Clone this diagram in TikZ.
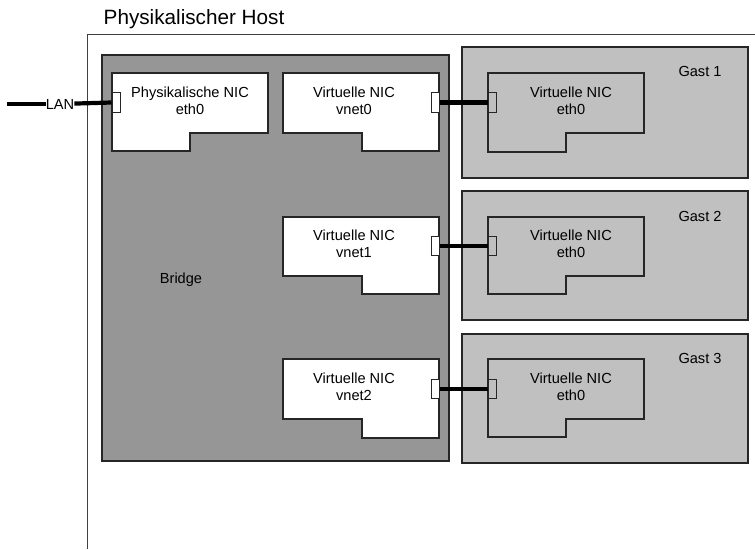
\documentclass[tikz,border=0pt]{standalone}
\usepackage{fontspec}
\setmainfont{Liberation Sans}
\usepackage{xcolor}

\definecolor{bridgegray}{HTML}{969696}
\definecolor{gastgray}{HTML}{C0C0C0}

\begin{document}
\begin{tikzpicture}[x=1pt, y=-1pt,
    box/.style={draw=black!85, line width=1.3pt},
    port/.style={draw=black!85, line width=1pt, minimum width=8pt, minimum height=19.5pt, inner sep=0pt},
    wire/.style={line width=4.2pt},
    lbl/.style={font=\fontsize{14.6}{16.5}\selectfont, align=center, inner sep=0pt}]
    \useasboundingbox (0,0) rectangle (755,549);

    \draw[draw=black!75, line width=1pt] (87,549) -- (87,34) -- (755,34);
    \node[font=\fontsize{20.7}{24}\selectfont, inner sep=0pt] (title) at (194,19) {Physikalischer Host};

    \filldraw[box, fill=bridgegray] (102,55) rectangle (449,461);
    \filldraw[box, fill=gastgray] (462,47) rectangle (748,178);
    \filldraw[box, fill=gastgray] (462,191) rectangle (748,320);
    \filldraw[box, fill=gastgray] (462,334) rectangle (748,463);

    \filldraw[box, fill=white] (112,73) -- (268,73) -- (268,133) -- (190,133) -- (190,151) -- (112,151) -- cycle;
    \filldraw[box, fill=white] (283,73) -- (439,73) -- (439,151) -- (362,151) -- (362,133) -- (283,133) -- cycle;
    \filldraw[box, fill=white] (283,217) -- (439,217) -- (439,294) -- (362,294) -- (362,276) -- (283,276) -- cycle;
    \filldraw[box, fill=white] (283,359) -- (439,359) -- (439,438) -- (362,438) -- (362,419) -- (283,419) -- cycle;
    \draw[box] (488,73) -- (644,73) -- (644,133) -- (566,133) -- (566,152) -- (488,152) -- cycle;
    \draw[box] (488,217) -- (644,217) -- (644,276) -- (566,276) -- (566,294) -- (488,294) -- cycle;
    \draw[box] (488,359) -- (644,359) -- (644,419) -- (566,419) -- (566,437) -- (488,437) -- cycle;

    \node[port, fill=white] (pport) at (116,102.5) {};
    \node[port, fill=white] (v0port) at (435,102.5) {};
    \node[port, fill=white] (v1port) at (435,246) {};
    \node[port, fill=white] (v2port) at (435,389) {};
    \node[port] (g1port) at (492,102.5) {};
    \node[port] (g2port) at (492,246) {};
    \node[port] (g3port) at (492,389) {};

    \node[lbl] (lan) at (60,104) {LAN};
    \coordinate (lanend) at (7,104);
    \draw[wire] (lanend) -- (lan);
    \draw[wire] (lan) -- (pport.west);
    \draw[wire] (v0port.east) -- (g1port.west);
    \draw[wire] (v1port.east) -- (g2port.west);
    \draw[wire] (v2port.east) -- (g3port.west);

    \node[lbl] (pnic) at (190,101) {Physikalische NIC\\eth0};
    \node[lbl] (vnet0) at (354,101) {Virtuelle NIC\\vnet0};
    \node[lbl] (vnet1) at (354,244) {Virtuelle NIC\\vnet1};
    \node[lbl] (vnet2) at (354,387) {Virtuelle NIC\\vnet2};
    \node[lbl] (g1eth) at (571,101) {Virtuelle NIC\\eth0};
    \node[lbl] (g2eth) at (571,244) {Virtuelle NIC\\eth0};
    \node[lbl] (g3eth) at (571,387) {Virtuelle NIC\\eth0};
    \node[lbl] (bridge) at (181,280) {Bridge};
    \node[lbl] (gast1) at (700,71) {Gast 1};
    \node[lbl] (gast2) at (700,216) {Gast 2};
    \node[lbl] (gast3) at (700,358) {Gast 3};
\end{tikzpicture}
\end{document}
